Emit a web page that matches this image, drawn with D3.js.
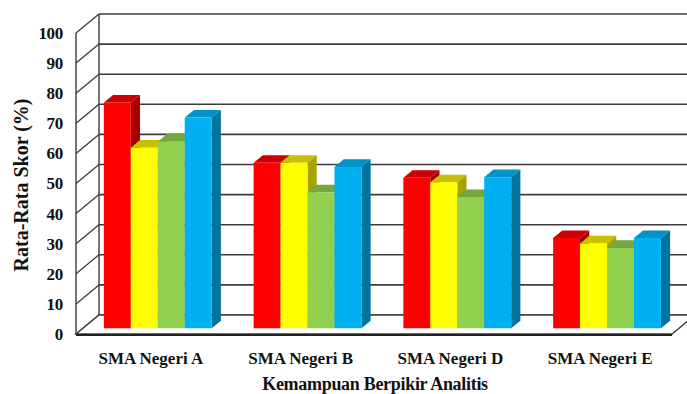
<!DOCTYPE html>
<html>
<head>
<meta charset="utf-8">
<script src="https://cdn.jsdelivr.net/npm/d3@7"></script>
<style>
  body { margin: 0; background: #fff; }
</style>
</head>
<body>
<svg width="687" height="394"></svg>
<script>
// Data
const categories = ["SMA Negeri A", "SMA Negeri B", "SMA Negeri D", "SMA Negeri E"];
const seriesNames = ["s1", "s2", "s3", "s4"];
const s1 = [75, 55, 50, 30];
const s2 = [60, 55, 48.5, 28.2];
const s3 = [62, 45.2, 43.6, 26.7];
const s4 = [70, 53.6, 50.2, 30];
const yTicks = [0, 10, 20, 30, 40, 50, 60, 70, 80, 90, 100];

const seriesValues = [s1, s2, s3, s4];
const colors = {
  front: ["#ff0000", "#ffff00", "#92d050", "#00b0f0"],
  top:   ["#cc0000", "#c8c000", "#76a63e", "#0092c8"],
  side:  ["#a80000", "#a8a200", "#5f8a30", "#00739e"]
};
const font = "Liberation Serif";

let svg = d3.select("svg");

// front plane scales, depth vector for the 3D walls
const depth = [23, -19];
let x = d3.scaleBand()
    .domain(categories)
    .range([76, 675])
    .paddingInner(0.28)
    .paddingOuter(0.14);
let xs = d3.scaleBand()
    .domain(seriesNames)
    .range([0, x.bandwidth()]);
let y = d3.scaleLinear()
    .domain([0, 100])
    .range([334, 33]);

// project a front-plane point to depth t (0 = front, 1 = back wall)
function proj(px, v, t) {
    return [px + t * depth[0], y(v) + t * depth[1]];
}
function poly(pts) {
    return pts.map(p => p.join(",")).join(" ");
}

const gridColor = "#3c3c3c";
const xEnd = 672;

// back wall gridlines
svg.append("g").selectAll("line")
    .data(yTicks)
    .enter().append("line")
    .attr("x1", d => proj(76, d, 1)[0])
    .attr("x2", 700)
    .attr("y1", d => proj(76, d, 1)[1])
    .attr("y2", d => proj(76, d, 1)[1])
    .style("stroke", gridColor)
    .style("stroke-width", 1.6);

// left side wall lines
svg.append("g").selectAll("line")
    .data(yTicks)
    .enter().append("line")
    .attr("x1", d => proj(76, d, 0)[0])
    .attr("y1", d => proj(76, d, 0)[1])
    .attr("x2", d => proj(76, d, 1)[0])
    .attr("y2", d => proj(76, d, 1)[1])
    .style("stroke", gridColor)
    .style("stroke-width", 1.3);

svg.append("line")
    .attr("x1", 76).attr("x2", 76)
    .attr("y1", y(0)).attr("y2", y(100))
    .style("stroke", gridColor).style("stroke-width", 1.4);
svg.append("line")
    .attr("x1", proj(76, 0, 1)[0]).attr("x2", proj(76, 0, 1)[0])
    .attr("y1", proj(76, 0, 1)[1]).attr("y2", proj(76, 100, 1)[1])
    .style("stroke", gridColor).style("stroke-width", 1.4);

// floor
svg.append("polygon")
    .attr("points", poly([proj(76, 0, 0), proj(xEnd, 0, 0), proj(xEnd, 0, 1), proj(76, 0, 1)]))
    .style("fill", "#fff")
    .style("stroke", gridColor)
    .style("stroke-width", 1.4);
svg.append("line")
    .attr("x1", 76).attr("x2", xEnd)
    .attr("y1", y(0) + 1).attr("y2", y(0) + 1)
    .style("stroke", "#222").style("stroke-width", 2);

// bars
const t0 = 0.3, t1 = 0.7;
let bars = [];
categories.forEach((c, ci) => {
    seriesNames.forEach((s, si) => {
        bars.push({cat: c, ser: s, si: si, v: seriesValues[si][ci]});
    });
});

let barG = svg.append("g").selectAll("g")
    .data(bars)
    .enter().append("g");

barG.append("polygon")
    .attr("points", d => {
        let x1 = x(d.cat) + xs(d.ser) + xs.bandwidth();
        return poly([proj(x1, 0, t0), proj(x1, 0, t1), proj(x1, d.v, t1), proj(x1, d.v, t0)]);
    })
    .style("fill", d => colors.side[d.si]);

barG.append("polygon")
    .attr("points", d => {
        let x0 = x(d.cat) + xs(d.ser), x1 = x0 + xs.bandwidth();
        return poly([proj(x0, d.v, t0), proj(x1, d.v, t0), proj(x1, d.v, t1), proj(x0, d.v, t1)]);
    })
    .style("fill", d => colors.top[d.si]);

barG.append("polygon")
    .attr("points", d => {
        let x0 = x(d.cat) + xs(d.ser), x1 = x0 + xs.bandwidth();
        return poly([proj(x0, 0, t0), proj(x1, 0, t0), proj(x1, d.v, t0), proj(x0, d.v, t0)]);
    })
    .style("fill", d => colors.front[d.si]);

// text helper
function label(sel, size, spacing) {
    return sel.attr("font-family", font)
        .attr("font-weight", "bold")
        .attr("font-size", size)
        .attr("letter-spacing", spacing)
        .attr("fill", "#111");
}

// y tick labels
label(svg.append("g").selectAll("text")
    .data(yTicks)
    .enter().append("text")
    .attr("x", 63)
    .attr("y", d => y(d))
    .attr("dy", "0.35em")
    .attr("text-anchor", "end")
    .text(d => d), 17, -0.3);

// category labels
label(svg.append("g").selectAll("text")
    .data(categories)
    .enter().append("text")
    .attr("x", d => x(d) + x.bandwidth() / 2)
    .attr("y", 364)
    .attr("text-anchor", "middle")
    .text(d => d), 17, 0);

// axis titles
label(svg.append("text")
    .attr("x", 375)
    .attr("y", 390)
    .attr("text-anchor", "middle")
    .text("Kemampuan Berpikir Analitis"), 18, -0.3);

label(svg.append("text")
    .attr("transform", "translate(28,185) rotate(-90)")
    .attr("text-anchor", "middle")
    .text("Rata-Rata Skor (%)"), 20, 0);
</script>
</body>
</html>
